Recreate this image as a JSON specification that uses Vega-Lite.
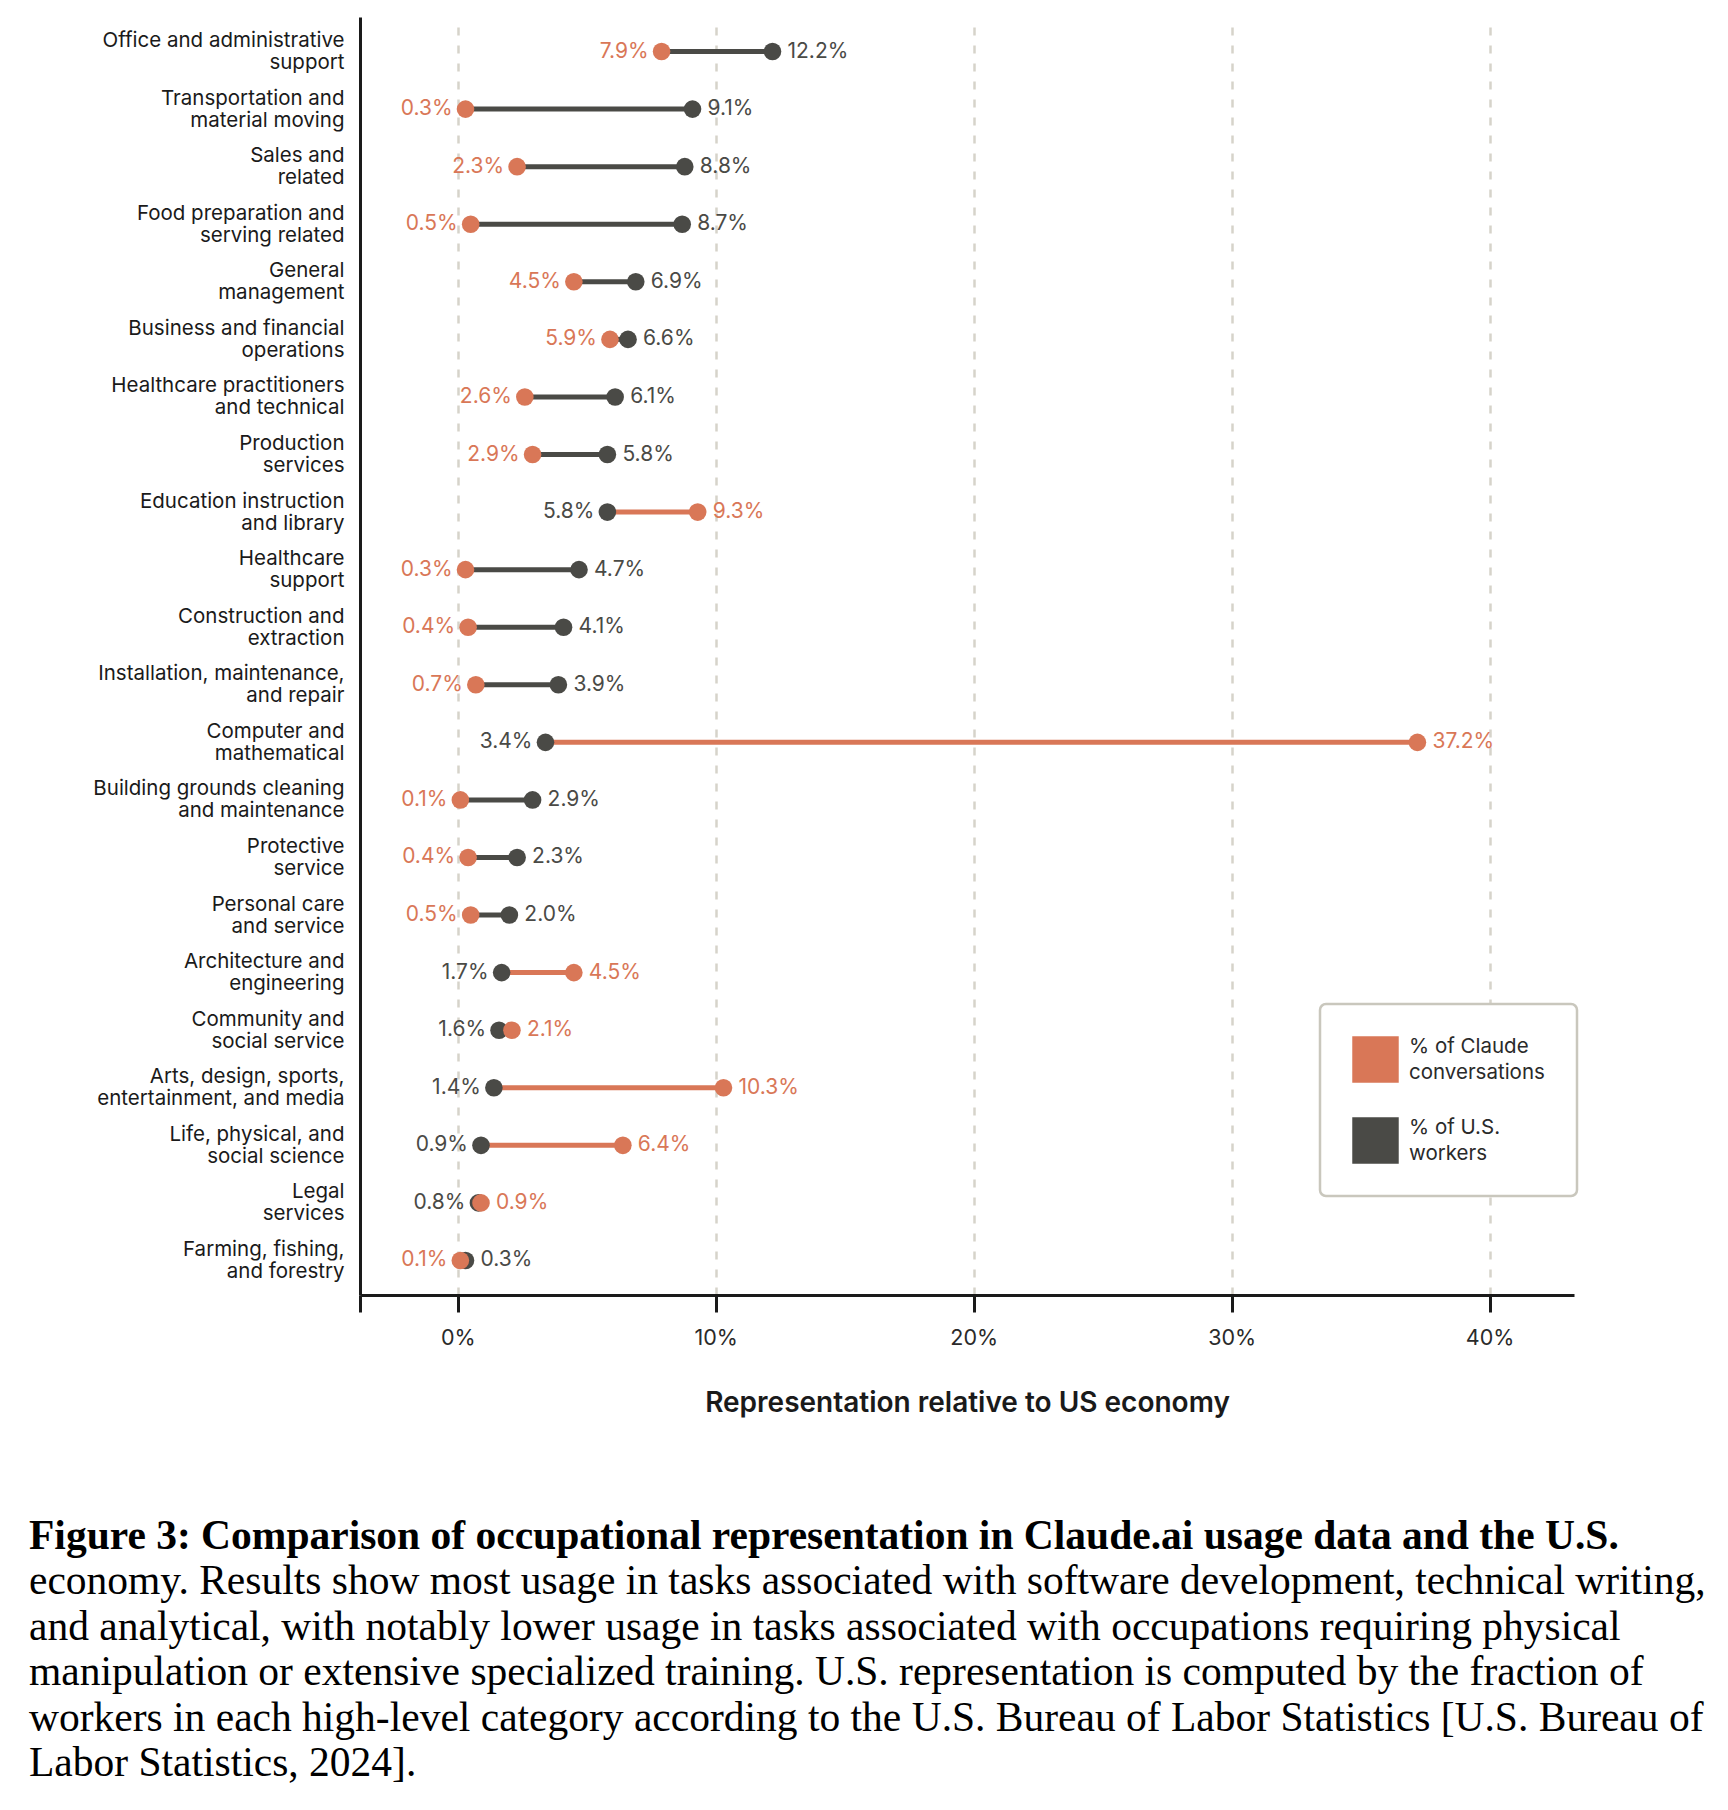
{
  "$schema": "https://vega.github.io/schema/vega-lite/v6.json",
  "width": 1214,
  "height": 1278,
  "autosize": {"type": "none"},
  "padding": {"left": 360, "top": 17, "right": 154, "bottom": 515},
  "background": "white",
  "config": {"view": {"stroke": null}, "font": "Inter"},
  "title": {
    "text": "Figure 3:  Comparison of occupational representation in Claude.ai usage data and the U.S.",
    "subtitle": [
      "economy. Results show most usage in tasks associated with software development, technical writing,",
      "and analytical, with notably lower usage in tasks associated with occupations requiring physical",
      "manipulation or extensive specialized training. U.S. representation is computed by the fraction of",
      "workers in each high-level category according to the U.S. Bureau of Labor Statistics [U.S. Bureau of",
      "Labor Statistics, 2024]."
    ],
    "orient": "bottom",
    "anchor": "start",
    "frame": "group",
    "dx": -331,
    "offset": 98,
    "font": "Liberation Serif",
    "fontSize": 41.5,
    "fontWeight": "bold",
    "color": "#000000",
    "subtitleFont": "Liberation Serif",
    "subtitleFontSize": 41.5,
    "subtitleColor": "#000000",
    "subtitleLineHeight": 45.5,
    "subtitlePadding": 4
  },
  "data": {
    "values": [
      {"occupation": "Office and administrative\nsupport", "series": "% of Claude\nconversations", "value": 0.079},
      {"occupation": "Office and administrative\nsupport", "series": "% of U.S.\nworkers", "value": 0.122},
      {"occupation": "Transportation and\nmaterial moving", "series": "% of Claude\nconversations", "value": 0.003},
      {"occupation": "Transportation and\nmaterial moving", "series": "% of U.S.\nworkers", "value": 0.091},
      {"occupation": "Sales and\nrelated", "series": "% of Claude\nconversations", "value": 0.023},
      {"occupation": "Sales and\nrelated", "series": "% of U.S.\nworkers", "value": 0.088},
      {"occupation": "Food preparation and\nserving related", "series": "% of Claude\nconversations", "value": 0.005},
      {"occupation": "Food preparation and\nserving related", "series": "% of U.S.\nworkers", "value": 0.087},
      {"occupation": "General\nmanagement", "series": "% of Claude\nconversations", "value": 0.045},
      {"occupation": "General\nmanagement", "series": "% of U.S.\nworkers", "value": 0.069},
      {"occupation": "Business and financial\noperations", "series": "% of Claude\nconversations", "value": 0.059},
      {"occupation": "Business and financial\noperations", "series": "% of U.S.\nworkers", "value": 0.066},
      {"occupation": "Healthcare practitioners\nand technical", "series": "% of Claude\nconversations", "value": 0.026},
      {"occupation": "Healthcare practitioners\nand technical", "series": "% of U.S.\nworkers", "value": 0.061},
      {"occupation": "Production\nservices", "series": "% of Claude\nconversations", "value": 0.029},
      {"occupation": "Production\nservices", "series": "% of U.S.\nworkers", "value": 0.058},
      {"occupation": "Education instruction\nand library", "series": "% of Claude\nconversations", "value": 0.093},
      {"occupation": "Education instruction\nand library", "series": "% of U.S.\nworkers", "value": 0.058},
      {"occupation": "Healthcare\nsupport", "series": "% of Claude\nconversations", "value": 0.003},
      {"occupation": "Healthcare\nsupport", "series": "% of U.S.\nworkers", "value": 0.047},
      {"occupation": "Construction and\nextraction", "series": "% of Claude\nconversations", "value": 0.004},
      {"occupation": "Construction and\nextraction", "series": "% of U.S.\nworkers", "value": 0.041},
      {"occupation": "Installation, maintenance,\nand repair", "series": "% of Claude\nconversations", "value": 0.007},
      {"occupation": "Installation, maintenance,\nand repair", "series": "% of U.S.\nworkers", "value": 0.039},
      {"occupation": "Computer and\nmathematical", "series": "% of Claude\nconversations", "value": 0.372},
      {"occupation": "Computer and\nmathematical", "series": "% of U.S.\nworkers", "value": 0.034},
      {"occupation": "Building grounds cleaning\nand maintenance", "series": "% of Claude\nconversations", "value": 0.001},
      {"occupation": "Building grounds cleaning\nand maintenance", "series": "% of U.S.\nworkers", "value": 0.029},
      {"occupation": "Protective\nservice", "series": "% of Claude\nconversations", "value": 0.004},
      {"occupation": "Protective\nservice", "series": "% of U.S.\nworkers", "value": 0.023},
      {"occupation": "Personal care\nand service", "series": "% of Claude\nconversations", "value": 0.005},
      {"occupation": "Personal care\nand service", "series": "% of U.S.\nworkers", "value": 0.020},
      {"occupation": "Architecture and\nengineering", "series": "% of Claude\nconversations", "value": 0.045},
      {"occupation": "Architecture and\nengineering", "series": "% of U.S.\nworkers", "value": 0.017},
      {"occupation": "Community and\nsocial service", "series": "% of Claude\nconversations", "value": 0.021},
      {"occupation": "Community and\nsocial service", "series": "% of U.S.\nworkers", "value": 0.016},
      {"occupation": "Arts, design, sports,\nentertainment, and media", "series": "% of Claude\nconversations", "value": 0.103},
      {"occupation": "Arts, design, sports,\nentertainment, and media", "series": "% of U.S.\nworkers", "value": 0.014},
      {"occupation": "Life, physical, and\nsocial science", "series": "% of Claude\nconversations", "value": 0.064},
      {"occupation": "Life, physical, and\nsocial science", "series": "% of U.S.\nworkers", "value": 0.009},
      {"occupation": "Legal\nservices", "series": "% of Claude\nconversations", "value": 0.009},
      {"occupation": "Legal\nservices", "series": "% of U.S.\nworkers", "value": 0.008},
      {"occupation": "Farming, fishing,\nand forestry", "series": "% of Claude\nconversations", "value": 0.001},
      {"occupation": "Farming, fishing,\nand forestry", "series": "% of U.S.\nworkers", "value": 0.003}
    ]
  },
  "transform": [
    {"joinaggregate": [{"op": "max", "field": "value", "as": "maxv"}, {"op": "min", "field": "value", "as": "minv"}], "groupby": ["occupation"]}
  ],
  "encoding": {
    "y": {
      "field": "occupation",
      "type": "nominal",
      "sort": null,
      "scale": {"type": "point", "padding": 0.6},
      "axis": {
        "title": null,
        "domain": true,
        "domainColor": "#1a1a1a",
        "domainWidth": 3,
        "ticks": false,
        "grid": false,
        "labelPadding": 16,
        "labelFontSize": 20.5,
        "labelLineHeight": 22,
        "labelOffset": -11,
        "labelColor": "#1a1a1a",
        "labelLimit": 400,
        "labelExpr": "split(datum.label, '\\n')",
        "zindex": 1
      }
    }
  },
  "layer": [
    {
      "transform": [{"filter": "datum.value === datum.maxv"}],
      "mark": {"type": "rule", "strokeWidth": 5},
      "encoding": {
        "x": {
          "field": "minv",
          "type": "quantitative",
          "scale": {"domain": [-0.0379, 0.4327], "nice": false, "zero": false},
          "axis": {
            "values": [-0.0379, 0, 0.1, 0.2, 0.3, 0.4],
            "labelExpr": "datum.value < -0.01 ? '' : format(datum.value, '.0%')",
            "title": "Representation relative to US economy",
            "titleFontSize": 28,
            "titleFontWeight": 600,
            "titleColor": "#1a1a1a",
            "titlePadding": 41,
            "domainColor": "#1a1a1a",
            "domainWidth": 3,
            "tickColor": "#1a1a1a",
            "tickWidth": 3,
            "tickSize": 17,
            "labelPadding": 15,
            "labelFontSize": 21.5,
            "labelColor": "#2a2a2a",
            "grid": true,
            "gridColor": "#d6d3ca",
            "gridDash": [8, 10],
            "gridWidth": 2.5
          }
        },
        "x2": {"field": "maxv"},
        "color": {
          "field": "series",
          "type": "nominal",
          "scale": {"domain": ["% of Claude\nconversations", "% of U.S.\nworkers"], "range": ["#d97757", "#4a4a46"]},
          "legend": {
            "title": null,
            "orient": "none",
            "legendX": 960,
            "legendY": 987,
            "direction": "vertical",
            "symbolType": "square",
            "symbolSize": 2160,
            "symbolStrokeWidth": 0,
            "symbolOpacity": 1,
            "padding": 32,
            "strokeColor": "#c9c7bd",
            "cornerRadius": 6,
            "fillColor": "white",
            "labelFontSize": 20.5,
            "labelOffset": 10,
            "labelColor": "#2a2a2a",
            "labelLimit": 300,
            "labelExpr": "split(datum.label, '\\n')",
            "rowPadding": 34,
            "encode": {
              "legend": {"update": {"strokeWidth": {"value": 2.5}}},
              "labels": {"update": {"lineHeight": {"value": 26}, "dy": {"value": -13}}}
            }
          }
        }
      }
    },
    {
      "transform": [{"filter": "datum.series === '% of U.S.\\nworkers'"}],
      "mark": {"type": "circle", "size": 310, "opacity": 1},
      "encoding": {
        "x": {"field": "value", "type": "quantitative"},
        "color": {"field": "series", "type": "nominal"}
      }
    },
    {
      "transform": [{"filter": "datum.series === '% of Claude\\nconversations'"}],
      "mark": {"type": "circle", "size": 310, "opacity": 1},
      "encoding": {
        "x": {"field": "value", "type": "quantitative"},
        "color": {"field": "series", "type": "nominal"}
      }
    },
    {
      "transform": [{"filter": "datum.value === datum.maxv"}],
      "mark": {"type": "text", "align": "left", "baseline": "middle", "dx": 15, "fontSize": 21},
      "encoding": {
        "x": {"field": "value", "type": "quantitative"},
        "text": {"field": "value", "type": "quantitative", "format": ".1%"},
        "color": {"field": "series", "type": "nominal"}
      }
    },
    {
      "transform": [{"filter": "datum.value < datum.maxv"}],
      "mark": {"type": "text", "align": "right", "baseline": "middle", "dx": -13, "fontSize": 21},
      "encoding": {
        "x": {"field": "value", "type": "quantitative"},
        "text": {"field": "value", "type": "quantitative", "format": ".1%"},
        "color": {"field": "series", "type": "nominal"}
      }
    }
  ]
}
